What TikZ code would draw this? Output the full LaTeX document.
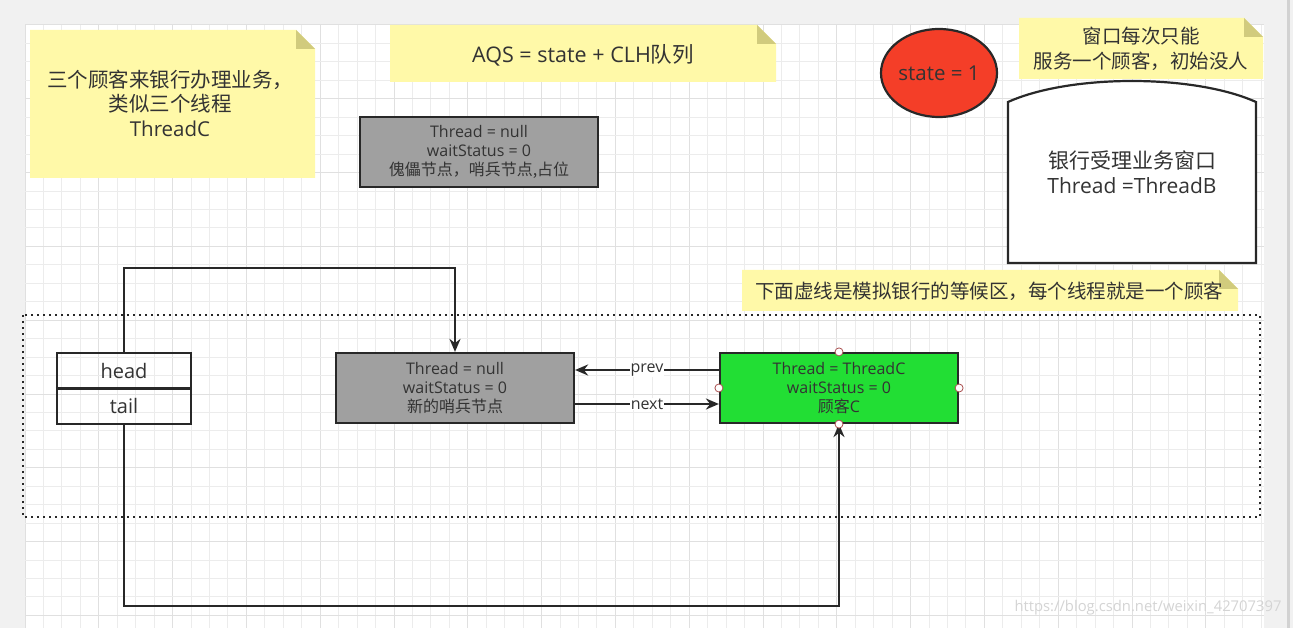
\documentclass[tikz,border=0pt]{standalone}
\usepackage{fontspec}
\setmainfont{Open Sans}
\newfontfamily\cjk{Noto Sans CJK SC}
\usetikzlibrary{arrows.meta,shapes.geometric,calc}
\definecolor{bgg}{RGB}{241,241,241}
\definecolor{gridminor}{RGB}{236,236,236}
\definecolor{gridmajor}{RGB}{224,224,224}
\definecolor{notey}{RGB}{255,249,168}
\definecolor{notefold}{RGB}{209,203,125}
\definecolor{txt}{RGB}{51,51,51}
\definecolor{line}{RGB}{40,40,40}
\definecolor{redfill}{RGB}{244,62,40}
\definecolor{greenfill}{RGB}{34,222,52}
\definecolor{grayfill}{RGB}{160,160,160}
\definecolor{handle}{RGB}{170,80,80}
\definecolor{wm}{RGB}{212,212,212}
\newcommand\mynotebox[5]{%
  \fill[notey] (#1,#2) -- ({#3-#5},#2) -- (#3,{#2+#5}) -- (#3,#4) -- (#1,#4) -- cycle;
  \fill[notefold] ({#3-#5},#2) -- ({#3-#5},{#2+#5}) -- (#3,{#2+#5}) -- cycle;}
\tikzset{
  txtnode/.style={text=txt,align=center,inner sep=0pt},
  big/.style={font=\fontsize{20.5}{24.5}\selectfont},
  small/.style={font=\fontsize{16}{19}\selectfont},
  nodebox/.style={draw=line,line width=2.2pt,minimum width=238pt,minimum height=70pt,text=txt,align=center,small,inner sep=0pt},
  conn/.style={draw=line,line width=2.2pt},
  arr/.style={conn,-{Stealth[length=13pt,width=11pt]}},
  lbl/.style={fill=white,inner sep=1pt,text=txt,small},
  hdl/.style={circle,draw=handle,fill=white,line width=0.8pt,minimum size=8pt,inner sep=0pt},
}
\begin{document}
\begin{tikzpicture}[x=1pt,y=-1pt]
\useasboundingbox (0,0) rectangle (1293,628);
\fill[bgg] (0,0) rectangle (1293,628);
\fill[white] (25,25) rectangle (1264,628);
\fill[gray!35] (1287,0) rectangle (1290,628);
% grid
\begin{scope}
\clip (25,25) rectangle (1264,628);
\foreach \i in {0,...,68} {
  \pgfmathtruncatemacro\m{mod(\i,4)}
  \ifnum\m=0 \def\gc{gridmajor}\else\def\gc{gridminor}\fi
  \draw[\gc,line width=1pt] ({25+\i*18.45},25) -- ({25+\i*18.45},628);
}
\foreach \j in {0,...,33} {
  \pgfmathtruncatemacro\m{mod(\j,4)}
  \ifnum\m=0 \def\gc{gridmajor}\else\def\gc{gridminor}\fi
  \draw[\gc,line width=1pt] (25,{25+\j*18.45}) -- (1264,{25+\j*18.45});
}
\end{scope}
% notes
\mynotebox{30}{30}{315}{178}{19}
\node[txtnode,big] (n1) at (170,103) {{\cjk 三个顾客来银行办理业务，}\\{\cjk 类似三个线程}\\ThreadC};
\mynotebox{390}{25}{776}{82}{19}
\node[txtnode,font=\fontsize{21.5}{25}\selectfont] (n2) at (583,55) {AQS = state + CLH{\cjk 队列}};
\mynotebox{1019}{18}{1263}{79}{19}
\node[txtnode,font=\fontsize{19.5}{25}\selectfont] (n3) at (1141,49) {{\cjk 窗口每次只能}\\{\cjk 服务一个顾客，初始没人}};
\mynotebox{742}{270}{1238}{311}{19}
\node[txtnode,font=\fontsize{19.5}{22}\selectfont] (n4) at (989,291) {\cjk 下面虚线是模拟银行的等候区，每个线程就是一个顾客};
% state ellipse
\node[ellipse,draw=line,line width=2.2pt,fill=redfill,minimum width=116pt,minimum height=88pt,inner sep=0pt,text=txt,font=\fontsize{20.5}{24}\selectfont] (st) at (939,73) {state = 1};
% window
\draw[line,line width=2.2pt,fill=white] (1008,263) -- (1008,102) .. controls (1070,74) and (1194,74) .. (1256,102) -- (1256,263) -- cycle;
\node[txtnode,font=\fontsize{21}{25}\selectfont] (win) at (1132,172) {{\cjk 银行受理业务窗口}\\Thread =ThreadB};
% top gray node
\node[nodebox,fill=grayfill] (top) at (479,152) {Thread = null\\waitStatus = 0\\{\cjk 傀儡节点，哨兵节点,占位}};
% dotted waiting area
\draw[line,line width=2pt,dash pattern=on 2pt off 4pt] (23,315) rectangle (1260,517);
% head/tail
\node[draw=line,line width=2.2pt,minimum width=134pt,minimum height=71pt,inner sep=0pt] (ht) at (124,388.5) {};
\draw[line,line width=2.2pt] (ht.west) -- (ht.east);
\node[txtnode,font=\fontsize{20}{24}\selectfont] (head) at (124,371) {head};
\node[txtnode,font=\fontsize{20}{24}\selectfont] (tail) at (124,406) {tail};
% middle nodes
\node[nodebox,fill=grayfill] (mid) at (455,388) {Thread = null\\waitStatus = 0\\{\cjk 新的哨兵节点}};
\node[nodebox,fill=greenfill] (grn) at (839,388) {Thread = ThreadC\\waitStatus = 0\\{\cjk 顾客}C};
% connectors
\coordinate (hk) at (455,268);
\coordinate (tk) at (839,606);
\draw[arr] (ht.north) |- (hk) -- (mid.north);
\draw[arr] (ht.south) |- (tk) -- (grn.south);
\draw[arr] ([yshift=18pt]grn.west) -- node[lbl] (lprev) {prev} ([yshift=18pt]mid.east);
\draw[arr] ([yshift=-16pt]mid.east) -- node[lbl] (lnext) {next} ([yshift=-16pt]grn.west);
% handles
\node[hdl] (h1) at (grn.north) {};
\node[hdl] (h2) at (grn.south) {};
\node[hdl] (h3) at (grn.west) {};
\node[hdl] (h4) at (grn.east) {};
% watermark
\node[inner sep=0pt,text=wm,font=\fontsize{14.8}{16}\selectfont] (wmk) at (1148,608) {https://blog.csdn.net/weixin\_42707397};
\end{tikzpicture}
\end{document}
